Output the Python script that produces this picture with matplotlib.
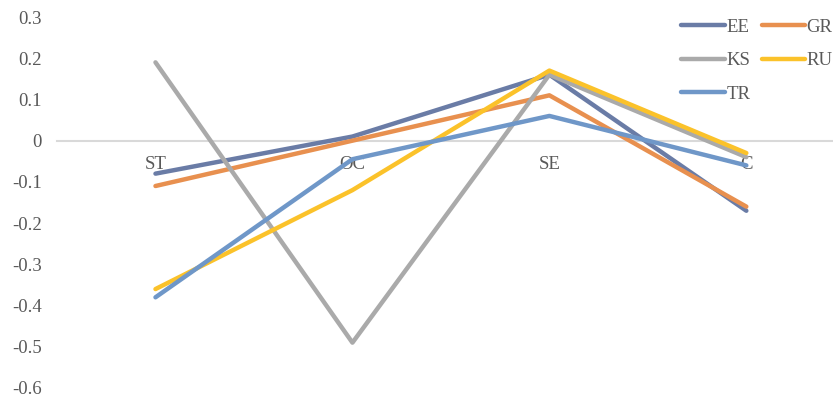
import matplotlib
matplotlib.use("Agg")
import matplotlib.pyplot as plt

categories = ["ST", "OC", "SE", "C"]
ee = [-0.08, 0.01, 0.16, -0.17]
gr = [-0.11, 0.00, 0.11, -0.16]
ks = [0.19, -0.49, 0.16, -0.04]
ru = [-0.36, -0.12, 0.17, -0.03]
tr = [-0.38, -0.045, 0.06, -0.06]

series = [
    ("EE", ee, "#6a7ca6"),
    ("GR", gr, "#e8904f"),
    ("KS", ks, "#aaaaaa"),
    ("RU", ru, "#fbc22a"),
    ("TR", tr, "#6f97c8"),
]

plt.rcParams["font.family"] = ["Liberation Serif", "DejaVu Serif"]
plt.rcParams["font.size"] = 13.5
text_color = "#595959"

fig = plt.figure(figsize=(8.33, 3.99), dpi=100)
ax = fig.add_axes([57 / 833, 11 / 399, 1 - 57 / 833, 371 / 399])

x = list(range(len(categories)))
lines = {}
for name, vals, color in series:
    lines[name], = ax.plot(x, vals, color=color, lw=3.2, solid_capstyle="round",
                           solid_joinstyle="round", label=name, zorder=3)

ax.set_xlim(-0.5, 3.44)
ax.set_ylim(-0.6, 0.3)
ax.set_yticks([0.3, 0.2, 0.1, 0, -0.1, -0.2, -0.3, -0.4, -0.5, -0.6])
ax.set_yticklabels(["0.3", "0.2", "0.1", "0", "-0.1", "-0.2", "-0.3",
                    "-0.4", "-0.5", "-0.6"])
ax.set_xticks(x)
ax.set_xticklabels(categories)

for side in ("top", "right", "left"):
    ax.spines[side].set_visible(False)
ax.spines["bottom"].set_position(("data", 0))
ax.spines["bottom"].set_color("#d9d9d9")
ax.spines["bottom"].set_linewidth(1.5)
ax.spines["bottom"].set_zorder(1)

ax.tick_params(axis="x", length=0, pad=11, colors=text_color)
ax.tick_params(axis="y", length=0, pad=11, colors=text_color)

# legend fills column-wise, so order handles to read across rows
order = ["EE", "KS", "TR", "GR", "RU"]
fig.legend([lines[n] for n in order], order, ncol=2, loc="upper left",
           bbox_to_anchor=(672 / 833, 1 - 9 / 399),
           frameon=False, handlelength=2.3, handletextpad=0.1,
           columnspacing=0.6, labelspacing=0.88, borderpad=0,
           labelcolor=text_color)

fig.savefig("out.png", dpi=100)
